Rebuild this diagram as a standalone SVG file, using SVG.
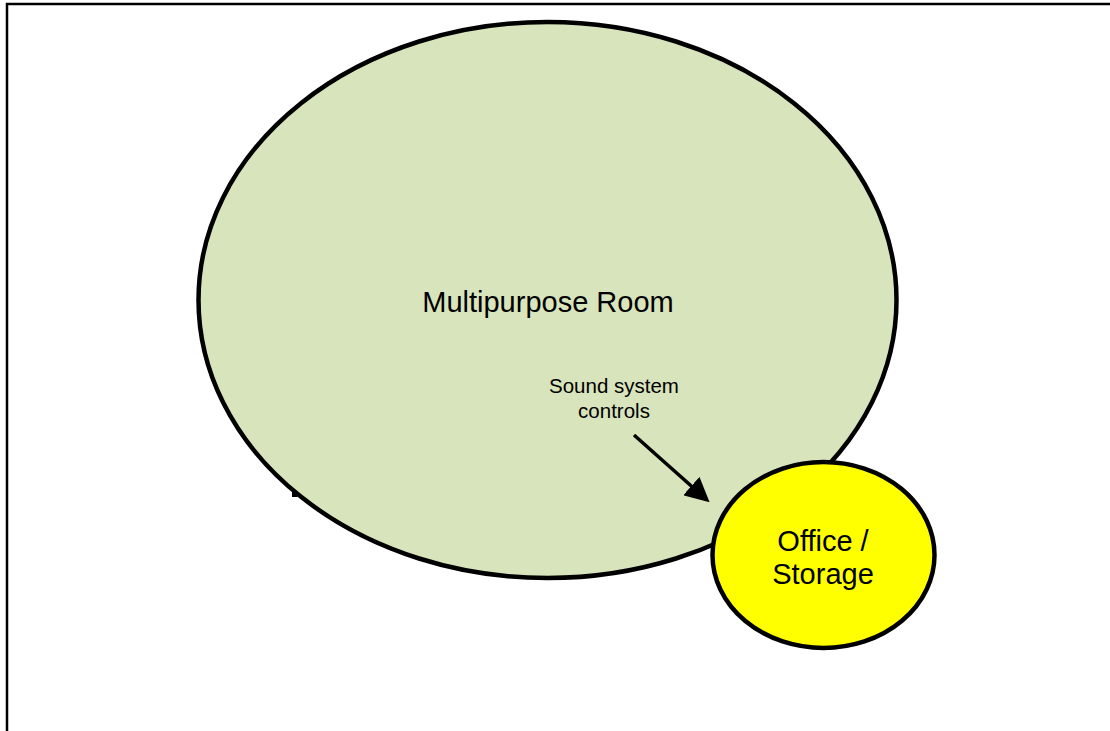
<svg xmlns="http://www.w3.org/2000/svg" width="1110" height="731" viewBox="0 0 1110 731">
  <style>
    .room { stroke: #000; stroke-width: 4.5; }
    .label { font-family: "Liberation Sans", Arial, sans-serif; fill: #000; text-anchor: middle; }
  </style>
  <defs>
    <marker id="arrowhead" markerWidth="7" markerHeight="7" refX="6" refY="3.5" orient="auto" markerUnits="strokeWidth">
      <path d="M0,0 L7,3.5 L0,7 Z" fill="#000"/>
    </marker>
  </defs>
  <rect width="1110" height="731" fill="#fff"/>
  <!-- page frame -->
  <path d="M7,731 V4 H1110" fill="none" stroke="#000" stroke-width="2.5"/>

  <g id="multipurpose-room">
    <ellipse class="room" cx="547.5" cy="300" rx="349" ry="278" fill="#d8e4bc"/>
    <path d="M292,491 L292,497 L298,497 Z" fill="#000"/>
    <text class="label" x="548" y="312" font-size="29">Multipurpose Room</text>
  </g>

  <g id="office-storage">
    <ellipse class="room" cx="823.5" cy="555" rx="111" ry="93" fill="#ffff00"/>
    <text class="label" x="823" y="551" font-size="29">Office /</text>
    <text class="label" x="823" y="584" font-size="29">Storage</text>
  </g>

  <g id="sound-controls">
    <text class="label" x="614" y="393" font-size="20.5">Sound system</text>
    <text class="label" x="614" y="418" font-size="20.5">controls</text>
  </g>

  <g id="connectors">
    <line x1="634" y1="435" x2="707" y2="500" stroke="#000" stroke-width="3.5" marker-end="url(#arrowhead)"/>
  </g>
</svg>
